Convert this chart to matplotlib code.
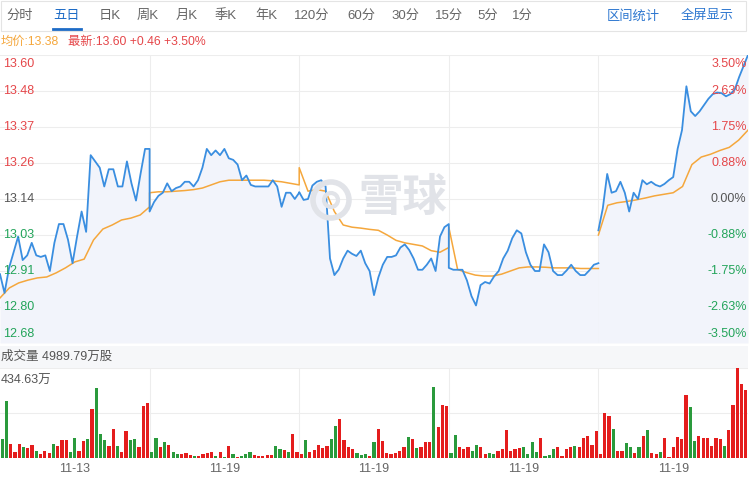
import numpy as np
import matplotlib.pyplot as plt
from matplotlib.patches import Rectangle, Circle
from matplotlib.lines import Line2D
from matplotlib.transforms import IdentityTransform

plt.rcParams['font.family'] = ['Liberation Sans', 'Noto Sans CJK SC', 'DejaVu Sans']

# ---- data ----
prev_close = 13.14
left_labels = ["13.60", "13.48", "13.37", "13.26", "13.14", "13.03", "12.91", "12.80", "12.68"]
right_labels = ["3.50%", "2.63%", "1.75%", "0.88%", "0.00%", "-0.88%", "-1.75%", "-2.63%", "-3.50%"]
date_labels = ["11-13", "11-19", "11-19", "11-19", "11-19"]
tabs = ["分时", "五日", "日K", "周K", "月K", "季K", "年K", "120分", "60分", "30分", "15分", "5分", "1分"]
tab_x = [20, 66, 110, 148, 187, 226, 266, 312, 361, 405, 449, 488, 522]

price_day1 = [12.90, 12.84, 12.92, 12.97, 13.02, 12.945, 12.96, 13.00, 12.96, 12.955, 12.96, 12.91,
              13.00, 13.06, 13.06, 13.01, 12.935, 13.02, 13.10, 13.035, 13.28, 13.26, 13.24, 13.18,
              13.235, 13.235, 13.18, 13.18, 13.26, 13.19, 13.135, 13.22, 13.30, 13.30]
price_day2 = [13.10, 13.13, 13.15, 13.16, 13.19, 13.165, 13.175, 13.18, 13.195, 13.195, 13.18, 13.20,
              13.24, 13.30, 13.28, 13.295, 13.28, 13.30, 13.27, 13.265, 13.25, 13.20, 13.215, 13.185,
              13.18, 13.18, 13.18, 13.18, 13.20, 13.18, 13.115, 13.16, 13.16, 13.14, 13.16]
price_day3 = [13.162, 13.137, 13.14, 13.183, 13.195, 13.20, 13.18, 12.95, 12.897, 12.915, 12.95, 12.975,
              12.965, 12.958, 12.975, 12.935, 12.91, 12.833, 12.89, 12.93, 12.955, 12.955, 12.96, 12.985,
              12.995, 12.977, 12.95, 12.914, 12.914, 12.93, 12.95, 12.91, 13.02, 13.05, 13.06]
price_day4 = [12.92, 12.914, 12.914, 12.914, 12.88, 12.83, 12.80, 12.865, 12.875, 12.87, 12.893, 12.91,
              12.95, 12.975, 13.015, 13.04, 13.03, 12.97, 12.93, 12.91, 12.91, 12.995, 12.97, 12.91,
              12.897, 12.897, 12.912, 12.93, 12.91, 12.897, 12.897, 12.912, 12.93, 12.935]
price_day5 = [13.04, 13.11, 13.22, 13.16, 13.165, 13.195, 13.16, 13.10, 13.16, 13.14, 13.20, 13.187,
              13.195, 13.185, 13.18, 13.188, 13.20, 13.21, 13.30, 13.36, 13.50, 13.42, 13.405, 13.42,
              13.44, 13.46, 13.475, 13.48, 13.478, 13.468, 13.475, 13.49, 13.53, 13.565, 13.60]

avg_day1 = [12.824, 12.856, 12.872, 12.881, 12.888, 12.891, 12.904, 12.92, 12.939, 12.948, 13.009,
            13.044, 13.057, 13.073, 13.079, 13.089, 13.115]
avg_day2 = [13.16, 13.163, 13.163, 13.165, 13.167, 13.17, 13.175, 13.185, 13.195, 13.20, 13.20, 13.20,
            13.20, 13.20, 13.198, 13.195, 13.19, 13.185]
avg_day3 = [13.24, 13.165, 13.17, 13.165, 13.10, 13.057, 13.05, 13.047, 13.043, 13.04, 13.025, 13.008,
            13.0, 12.995, 12.99, 12.975, 12.97, 12.985]
avg_day4 = [13.05, 12.915, 12.905, 12.897, 12.894, 12.894, 12.90, 12.91, 12.92, 12.923, 12.923, 12.922,
            12.92, 12.92, 12.92, 12.918, 12.918, 12.918]
avg_day5 = [13.025, 13.12, 13.128, 13.132, 13.137, 13.143, 13.15, 13.155, 13.16, 13.18, 13.25, 13.274,
            13.283, 13.295, 13.305, 13.328, 13.36]

vol_day1 = [93, 275, 68, 28, 68, 52, 50, 65, 36, 20, 36, 22, 68, 57, 85, 85, 31, 96, 36, 80, 93, 239,
            340, 117, 85, 60, 138, 60, 28, 130, 85, 90, 52, 252, 264]
vol_day2 = [28, 96, 52, 76, 65, 31, 20, 20, 24, 15, 10, 8, 20, 25, 28, 10, 28, 5, 60, 20, 5, 10, 20, 28,
            13, 10, 10, 13, 15, 60, 44, 40, 31, 114, 31]
vol_day3 = [20, 85, 31, 39, 65, 47, 60, 90, 153, 187, 85, 52, 44, 24, 15, 20, 8, 76, 138, 81, 23, 20, 23,
            36, 52, 101, 90, 47, 52, 76, 76, 345, 150, 256, 252]
vol_day4 = [24, 112, 52, 44, 55, 36, 65, 55, 20, 24, 20, 36, 44, 137, 36, 44, 47, 55, 20, 76, 28, 96, 11,
            15, 44, 55, 11, 44, 55, 60, 55, 96, 106, 63, 130]
vol_day5 = [20, 218, 204, 142, 36, 36, 72, 52, 24, 52, 106, 137, 24, 20, 31, 96, 3, 55, 101, 93, 304, 244,
            80, 106, 96, 96, 60, 96, 90, 60, 133, 255, 434.63, 355, 326]
# r = up bar, g = down bar
dir_day1 = "ggrrrgrrgrrrgrrrggrrgrgggrrgrrggrrr"
dir_day2 = "ggrgrggrrrgrrrrgrgrgrgggrrrrrggrgrr"
dir_day3 = "rgrrrrrggrrrrgggrgrrrrrrrgrgrrrgrrr"
dir_day4 = "ggrrrggrrggrrrrrrggggrgggrrrrgrrrrr"
dir_day5 = "rrrgrrggrgrgrrgrrrrrrggrrrrrrgrrrrr"
vol_max = 434.63

prices = [price_day1, price_day2, price_day3, price_day4, price_day5]
avgs = [avg_day1, avg_day2, avg_day3, avg_day4, avg_day5]
vols = [vol_day1, vol_day2, vol_day3, vol_day4, vol_day5]
dirs = [dir_day1, dir_day2, dir_day3, dir_day4, dir_day5]

W, H = 750, 482
BLUE = '#3a8ee0'
ORANGE = '#f5a73c'
RED = '#e5474a'
GREEN = '#23a45a'
GRID = '#ededed'


def box(x0, y0, x1, y1):
    return [x0 / W, 1 - y1 / H, (x1 - x0) / W, (y1 - y0) / H]


fig = plt.figure(figsize=(7.5, 4.82), dpi=100)

# tab bar
fig.add_artist(Rectangle((0.5 / W, 1 - 31 / H), 745 / W, 30.5 / H, fill=False, ec='#e4e4e4', lw=0.8,
                         transform=fig.transFigure))
for t, x in zip(tabs, tab_x):
    fig.text(x / W, 1 - 16 / H, t, ha='center', va='center', fontsize=9.5,
             color='#1d6bc6' if t == "五日" else '#666666')
fig.add_artist(Line2D([53 / W, 81 / W], [1 - 29 / H] * 2, color='#1d6bc6', lw=2))
fig.text(633 / W, 1 - 16 / H, "区间统计", ha='center', va='center', fontsize=9.5, color='#2f78d0')
fig.text(707 / W, 1 - 16 / H, "全屏显示", ha='center', va='center', fontsize=9.5, color='#2f78d0')

fig.text(1 / W, 1 - 42 / H, "均价:13.38", va='center', fontsize=8.8, color=ORANGE)
fig.text(68 / W, 1 - 42 / H, "最新:13.60 +0.46 +3.50%", va='center', fontsize=8.8, color=RED)

# price panel
ax = fig.add_axes(box(0, 55, 748, 343))
lo, hi = prev_close * (1 - 0.035), prev_close * (1 + 0.035)
ticks = np.linspace(hi, lo, 9)
ax.set_xlim(0, 5)
ax.set_ylim(lo, hi)
ax.axis('off')
for t in ticks:
    ax.axhline(t, color=GRID, lw=0.8, zorder=0)
for d in range(1, 5):
    ax.axvline(d, color=GRID, lw=0.8, zorder=0)

# watermark
ax.text(358 / 149.6, prev_close, "雪球", ha='left', va='center', fontsize=32, fontweight='bold',
        color='#e1e3e8', zorder=1)
fig.add_artist(Circle((331, H - 200), 18, fill=False, ec='#e1e3e8', lw=4, transform=IdentityTransform()))
fig.add_artist(Circle((331, H - 200), 7, fill=False, ec='#e1e3e8', lw=3, transform=IdentityTransform()))

# days 1-4 joined, day 5 on its own
seg_x, seg_y, seg_ax, seg_ay = [], [], [], []
for d in range(4):
    seg_x += list(d + np.linspace(0, 1, len(prices[d])))
    seg_y += prices[d]
    seg_ax += list(d + np.linspace(0, 1, len(avgs[d])))
    seg_ay += avgs[d]
x5 = 4 + np.linspace(0, 1, len(price_day5))
xa5 = 4 + np.linspace(0, 1, len(avg_day5))
for xs, ys in [(seg_x, seg_y), (x5, price_day5)]:
    ax.fill_between(xs, ys, lo, color='#f2f4fb', lw=0, zorder=1)
    ax.plot(xs, ys, color=BLUE, lw=1.3, zorder=3)
for xs, ys in [(seg_ax, seg_ay), (xa5, avg_day5)]:
    ax.plot(xs, ys, color=ORANGE, lw=1.1, zorder=2)

for i, (t, ll, rl) in enumerate(zip(ticks, left_labels, right_labels)):
    c = RED if i < 4 else ('#555555' if i == 4 else GREEN)
    va = 'top' if i == 0 else ('bottom' if i == 8 else 'center')
    off = -2 if i == 0 else (2 if i == 8 else 0)
    ax.annotate(ll, (0, t), xytext=(2, off), textcoords='offset points', ha='left', va=va,
                fontsize=9, color=c, zorder=5)
    ax.annotate(rl, (5, t), xytext=(-1, off), textcoords='offset points', ha='right', va=va,
                fontsize=9, color=c, zorder=5)

# volume header
fig.add_artist(Rectangle((0, 1 - 368 / H), 748 / W, 22 / H, color='#f6f7f9', lw=0,
                         transform=fig.transFigure))
fig.text(1 / W, 1 - 357 / H, "成交量 4989.79万股", va='center', fontsize=9, color='#555555')

# volume panel
vax = fig.add_axes(box(0, 368, 748, 458))
vax.set_xlim(0, 5)
vax.set_ylim(0, vol_max)
vax.axis('off')
vax.axhline(vol_max, color=GRID, lw=0.8, zorder=0)
vax.axhline(vol_max / 2, color=GRID, lw=0.8, zorder=0)
for d in range(1, 5):
    vax.axvline(d, color=GRID, lw=0.8, zorder=0)
for d in range(5):
    n = len(vols[d])
    xs = d + (np.arange(n) + 0.5) / n
    cols = ['#e41d1d' if c == 'r' else '#2a9a3c' for c in dirs[d]]
    vax.bar(xs, vols[d], width=0.75 / n, color=cols, zorder=2)
fig.text(1 / W, 1 - 381 / H, "434.63万", va='center', fontsize=9, color='#555555')

for d, lab in enumerate(date_labels):
    fig.text((d + 0.5) * 149.6 / W, 1 - 469 / H, lab, ha='center', va='center', fontsize=9,
             color='#666666')

fig.savefig('out.png', dpi=100, facecolor='white')
